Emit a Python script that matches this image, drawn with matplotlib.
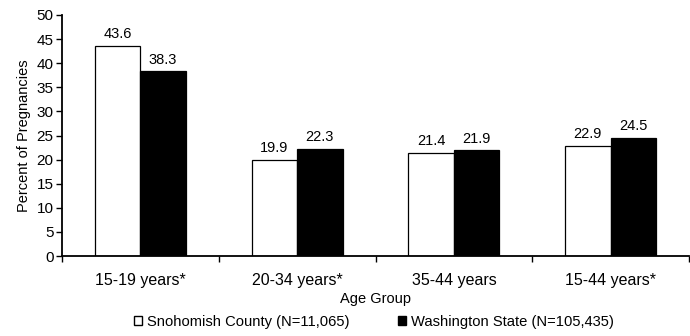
import numpy as np
import matplotlib
matplotlib.use("Agg")
import matplotlib.pyplot as plt
from matplotlib.patches import Patch

plt.rcParams['font.family'] = ['Liberation Sans', 'DejaVu Sans']

grupos = ["15-19 years*", "20-34 years*", "35-44 years", "15-44 years*"]
snohomish = [43.6, 19.9, 21.4, 22.9]
washington = [38.3, 22.3, 21.9, 24.5]
etiqueta_sno = "Snohomish County (N=11,065)"
etiqueta_wa = "Washington State (N=105,435)"

fig = plt.figure(figsize=(6.9, 3.36), dpi=100)
ax = fig.add_axes([62/690, 1-256/336, 627/690, (256-15)/336])

x = np.arange(len(grupos))
ancho = 0.29
b1 = ax.bar(x - ancho/2, snohomish, ancho, color="white", edgecolor="black", linewidth=0.9)
b2 = ax.bar(x + ancho/2, washington, ancho, color="black", edgecolor="black", linewidth=0.9)

# etiquetas de valor encima de cada barra
for barras in (b1, b2):
    for b in barras:
        ax.text(b.get_x() + b.get_width()/2, b.get_height() + 1.0, f"{b.get_height():.1f}",
                ha="center", va="bottom", fontsize=10.5)

ax.set_xlim(-0.5, len(grupos) - 0.5)
ax.set_ylim(0, 50)
ax.set_yticks(range(0, 51, 5))
ax.tick_params(axis="y", labelsize=11, length=4, width=1, direction="out", pad=2)
# marcas del eje x en los limites entre categorias
ax.set_xticks(np.arange(-0.5, len(grupos), 1.0))
ax.set_xticklabels([])
ax.set_xticks(x, minor=True)
ax.set_xticklabels(grupos, minor=True, fontsize=11.5)
ax.tick_params(axis="x", which="major", length=4, width=1, direction="out")
ax.tick_params(axis="x", which="minor", length=0, pad=12)

for s in ["top", "right"]:
    ax.spines[s].set_visible(False)
ax.spines["left"].set_linewidth(1.3)
ax.spines["bottom"].set_linewidth(1.3)

ax.set_ylabel("Percent of Pregnancies", fontsize=10.5, labelpad=4)
ax.set_xlabel("Age Group", fontsize=10.5, labelpad=3)

manijas = [Patch(facecolor="white", edgecolor="black", linewidth=1),
           Patch(facecolor="black", edgecolor="black", linewidth=1)]
fig.legend(manijas, [etiqueta_sno, etiqueta_wa], loc="center", bbox_to_anchor=(0.542, 0.043),
           ncol=2, frameon=False, fontsize=10.6, handlelength=0.55, handleheight=0.55,
           handletextpad=0.35, columnspacing=3.3)

fig.savefig("out.png", dpi=100)
